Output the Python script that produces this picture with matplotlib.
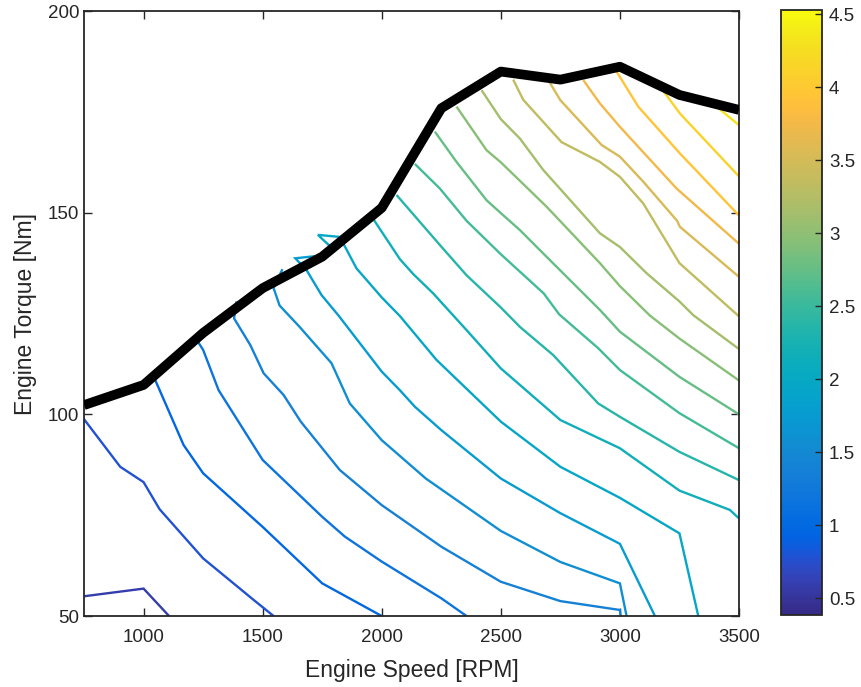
import matplotlib
matplotlib.use("Agg")
import matplotlib.pyplot as plt
from matplotlib.colors import LinearSegmentedColormap, Normalize
from matplotlib.cm import ScalarMappable
from matplotlib.ticker import FuncFormatter

plt.rcParams['font.family'] = ['Liberation Sans', 'DejaVu Sans']

# Full-load (maximum torque) curve
speed_grid = [750, 1000, 1250, 1500, 1750, 2000, 2250, 2500, 2750, 3000, 3250, 3500]
max_torque = [102.3, 107.3, 120.2, 131.3, 139.1, 151.2, 175.9, 185.0, 183.0, 186.2, 179.2, 175.5]

# Fuel-rate contour levels and their iso-lines (speed [RPM], torque [Nm])
levels = [0.58, 0.78, 0.98, 1.17, 1.37, 1.57, 1.77, 1.96, 2.16, 2.36,
          2.56, 2.75, 2.95, 3.15, 3.34, 3.54, 3.74, 3.94, 4.13, 4.33]
color_min, color_max = 0.384, 4.53

contour_rpm = [
    [750, 1000, 1107],
    [750, 902, 1000, 1067, 1250, 1462, 1546],
    [1049, 1168, 1250, 1500, 1750, 2000],
    [1225, 1250, 1315, 1500, 1750, 1845, 2000, 2250, 2356],
    [1390, 1380, 1448, 1504, 1588, 1660, 1824, 2000, 2250, 2500, 2750, 3000, 3003],
    [1583, 1546, 1571, 1655, 1789, 1866, 2000, 2185, 2500, 2750, 3000, 3028],
    [1732, 1637, 1684, 1747, 1820, 2000, 2076, 2139, 2250, 2500, 2750, 3000, 3147],
    [1790, 1732, 1824, 1894, 2000, 2076, 2230, 2500, 2750, 3000, 3250, 3329],
    [1966, 2076, 2132, 2216, 2356, 2500, 2750, 3000, 3250, 3462, 3500],
    [2062, 2244, 2356, 2500, 2580, 2720, 2909, 3000, 3250, 3500],
    [2139, 2244, 2356, 2500, 2680, 2745, 2909, 3000, 3250, 3500],
    [2223, 2314, 2440, 2500, 2580, 2678, 2916, 3000, 3250, 3500],
    [2314, 2440, 2500, 2692, 2916, 3000, 3126, 3250, 3500],
    [2419, 2500, 2580, 2678, 2916, 3000, 3112, 3250, 3308, 3500],
    [2552, 2594, 2755, 2916, 3000, 3098, 3250, 3500],
    [2706, 2750, 2923, 3000, 3098, 3240, 3252, 3500],
    [2846, 2916, 3000, 3238, 3500],
    [2986, 3077, 3252, 3500],
    [3182, 3252, 3500],
    [3406, 3500],
]
contour_nm = [
    [54.9, 56.8, 50.0],
    [98.8, 87.0, 83.2, 76.5, 64.3, 54.0, 50.0],
    [108.5, 92.4, 85.4, 72.1, 58.1, 50.0],
    [118.3, 116.0, 106.0, 88.7, 74.6, 69.7, 63.5, 54.4, 50.0],
    [128.0, 123.8, 117.2, 110.2, 104.8, 98.2, 86.2, 77.5, 67.2, 58.5, 53.7, 51.5, 50.0],
    [136.0, 131.3, 127.0, 121.7, 112.7, 102.7, 93.6, 84.1, 71.1, 63.4, 58.1, 50.0],
    [139.3, 138.7, 135.8, 129.6, 124.4, 110.6, 106.0, 101.9, 96.1, 84.1, 75.5, 67.9, 50.0],
    [141.3, 144.5, 144.0, 136.2, 129.0, 124.4, 113.5, 98.2, 87.0, 79.3, 70.5, 50.0],
    [148.3, 138.5, 134.8, 130.0, 120.9, 111.4, 98.6, 91.6, 81.1, 76.3, 74.2],
    [154.4, 142.0, 134.5, 126.5, 121.7, 114.7, 102.7, 99.4, 90.7, 83.7],
    [162.1, 156.0, 148.0, 139.7, 130.0, 124.8, 116.4, 111.0, 100.3, 91.6],
    [170.1, 162.6, 153.1, 149.9, 145.7, 139.9, 125.9, 120.5, 109.3, 100.0],
    [176.3, 165.5, 162.5, 151.5, 137.5, 131.8, 124.5, 118.8, 108.4],
    [180.4, 173.2, 168.4, 160.6, 144.9, 141.5, 135.0, 128.0, 124.6, 116.2],
    [183.0, 178.0, 167.5, 162.6, 158.9, 152.3, 137.5, 124.3],
    [182.2, 177.9, 166.8, 163.9, 157.7, 148.0, 146.5, 134.1],
    [182.9, 177.1, 171.3, 156.0, 142.3],
    [185.0, 176.3, 164.7, 149.3],
    [180.2, 174.6, 159.0],
    [176.3, 171.7],
]

# Parula colormap
parula_rgb = [
    [0.2081, 0.1663, 0.5292], [0.2116, 0.1898, 0.5777], [0.2123, 0.2138, 0.6270],
    [0.2081, 0.2386, 0.6771], [0.1959, 0.2645, 0.7279], [0.1707, 0.2919, 0.7792],
    [0.1253, 0.3242, 0.8303], [0.0591, 0.3598, 0.8683], [0.0117, 0.3875, 0.8820],
    [0.0060, 0.4086, 0.8828], [0.0165, 0.4266, 0.8786], [0.0329, 0.4430, 0.8720],
    [0.0498, 0.4586, 0.8641], [0.0629, 0.4737, 0.8554], [0.0723, 0.4887, 0.8467],
    [0.0779, 0.5040, 0.8384], [0.0793, 0.5200, 0.8312], [0.0749, 0.5375, 0.8263],
    [0.0641, 0.5570, 0.8240], [0.0488, 0.5772, 0.8228], [0.0343, 0.5966, 0.8199],
    [0.0265, 0.6137, 0.8135], [0.0239, 0.6287, 0.8038], [0.0231, 0.6418, 0.7913],
    [0.0228, 0.6535, 0.7768], [0.0267, 0.6642, 0.7607], [0.0384, 0.6743, 0.7436],
    [0.0590, 0.6838, 0.7254], [0.0843, 0.6928, 0.7062], [0.1133, 0.7015, 0.6859],
    [0.1453, 0.7098, 0.6646], [0.1801, 0.7177, 0.6424], [0.2178, 0.7250, 0.6193],
    [0.2586, 0.7317, 0.5954], [0.3022, 0.7376, 0.5712], [0.3482, 0.7424, 0.5473],
    [0.3953, 0.7459, 0.5244], [0.4420, 0.7481, 0.5033], [0.4871, 0.7491, 0.4840],
    [0.5300, 0.7491, 0.4661], [0.5709, 0.7485, 0.4494], [0.6099, 0.7473, 0.4337],
    [0.6473, 0.7456, 0.4188], [0.6834, 0.7435, 0.4044], [0.7184, 0.7411, 0.3905],
    [0.7525, 0.7384, 0.3768], [0.7858, 0.7356, 0.3633], [0.8185, 0.7327, 0.3498],
    [0.8507, 0.7299, 0.3360], [0.8824, 0.7274, 0.3217], [0.9139, 0.7258, 0.3063],
    [0.9450, 0.7261, 0.2886], [0.9739, 0.7314, 0.2666], [0.9938, 0.7455, 0.2403],
    [0.9990, 0.7653, 0.2164], [0.9955, 0.7861, 0.1967], [0.9880, 0.8066, 0.1794],
    [0.9789, 0.8271, 0.1633], [0.9697, 0.8481, 0.1475], [0.9626, 0.8705, 0.1309],
    [0.9589, 0.8949, 0.1132], [0.9598, 0.9218, 0.0948], [0.9661, 0.9514, 0.0755],
    [0.9763, 0.9831, 0.0538],
]
parula = LinearSegmentedColormap.from_list("parula", parula_rgb, N=256)
norm = Normalize(vmin=color_min, vmax=color_max)

ink = (0.15, 0.15, 0.15)

fig = plt.figure(figsize=(8.61, 6.87), dpi=100)
ax = fig.add_axes([0.0976, 0.1033, 0.7607, 0.8806])

for lev, xs, ys in zip(levels, contour_rpm, contour_nm):
    ax.plot(xs, ys, color=parula(norm(lev)), lw=1.7, solid_joinstyle='miter',
            solid_capstyle='butt', zorder=2)

ax.plot(speed_grid, max_torque, color='black', lw=7, solid_joinstyle='round',
        solid_capstyle='butt', zorder=3)

ax.set_xlim(750, 3500)
ax.set_ylim(50, 200)
ax.set_xticks([1000, 1500, 2000, 2500, 3000, 3500])
ax.set_yticks([50, 100, 150, 200])
ax.tick_params(direction='in', length=6, width=1.0, colors=ink, labelsize=13.5,
               top=True, right=True)
ax.tick_params(axis='x', pad=9.5)
ax.tick_params(axis='y', pad=3.5)
for sp in ax.spines.values():
    sp.set_color(ink)
    sp.set_linewidth(1.3)
ax.set_xlabel("Engine Speed [RPM]", fontsize=16.5, color=ink, labelpad=9)
ax.set_ylabel("Engine Torque [Nm]", fontsize=16.5, color=ink, labelpad=8)

cax = fig.add_axes([0.9071, 0.1048, 0.0476, 0.8806])
sm = ScalarMappable(norm=norm, cmap=parula)
cb = fig.colorbar(sm, cax=cax)
cb.set_ticks([0.5, 1, 1.5, 2, 2.5, 3, 3.5, 4, 4.5])
cb.ax.yaxis.set_major_formatter(FuncFormatter(lambda v, p: f"{v:g}"))
cb.ax.tick_params(direction='in', length=5, width=1.0, colors=ink, labelsize=13.5, pad=5)
cb.outline.set_edgecolor(ink)
cb.outline.set_linewidth(1.3)

fig.savefig("out.png", dpi=100)
